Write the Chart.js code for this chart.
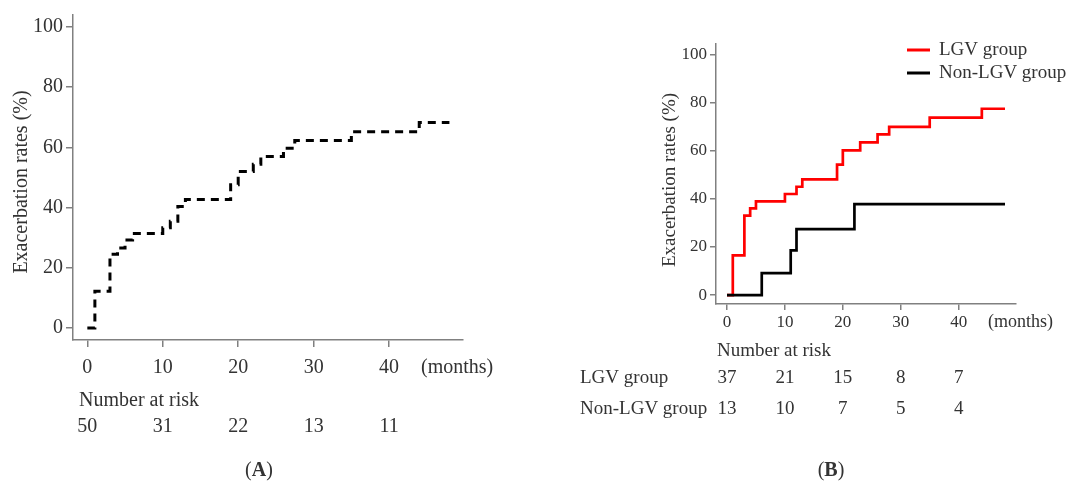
<!DOCTYPE html>
<html lang="en">
<head>
<meta charset="UTF-8">
<title>Exacerbation rates</title>
<style>
body {
    margin: 0;
    background: #fff;
    width: 1072px;
    height: 486px;
    position: relative;
    overflow: hidden;
}
.panel { position: absolute; top: 0; height: 486px; }
#wrapA { left: 0; width: 520px; }
#wrapB { left: 560px; width: 512px; }
</style>
</head>
<body>
<div class="panel" id="wrapA"><canvas id="chartA"></canvas></div>
<div class="panel" id="wrapB"><canvas id="chartB"></canvas></div>

<script src="https://cdn.jsdelivr.net/npm/chart.js"></script>
<script>
// panel A - whole cohort
const monthsAll = [0, 1, 3, 4, 5, 6, 10, 11, 12, 13, 19, 20, 22, 23, 26, 27.5, 35, 44, 48];
const ratesAll  = [0, 12.2, 24.5, 26.6, 29.2, 31.4, 33.3, 35.5, 40.4, 42.7, 47.6, 52.0, 54.4, 57.0, 59.7, 62.3, 65.2, 68.3, 68.3];

// panel B - by group
const monthsLGV = [0, 1, 3, 4, 5, 10, 12, 13, 19, 20, 23, 26, 28, 35, 44, 48];
const ratesLGV  = [0, 16.5, 33.0, 36.0, 38.9, 42.0, 45.0, 48.1, 54.2, 60.1, 63.4, 66.8, 69.9, 73.7, 77.4, 77.4];
const monthsNon = [0, 6, 11, 12, 22, 48];
const ratesNon  = [0, 9.1, 18.6, 27.4, 37.8, 37.8];

const xTicks = [0, 10, 20, 30, 40];
const yTicks = [0, 20, 40, 60, 80, 100];

// number at risk
const riskMonths = [0, 10, 20, 30, 40];
const riskAll = [50, 31, 22, 13, 11];
const riskLGV = [37, 21, 15, 8, 7];
const riskNon = [13, 10, 7, 5, 4];

const FONT = '"Liberation Serif", "DejaVu Serif", serif';
const TEXT = '#333';
const AXIS = '#808080';

const toPoints = (xs, ys) => xs.map((x, i) => ({ x: x, y: ys[i] }));

function axes(o) {
    return {
        x: {
            type: 'linear', min: o.xmin, max: o.xmax,
            afterBuildTicks: s => { s.ticks = xTicks.map(v => ({ value: v })); },
            afterFit: s => { s.height = o.xh; },
            grid: { drawOnChartArea: false, drawTicks: true, tickLength: o.tick, color: AXIS, lineWidth: 1.5 },
            border: { display: true, color: AXIS, width: 1.5 },
            ticks: { color: TEXT, font: { family: FONT, size: o.tickSize }, padding: o.xpad, maxRotation: 0 }
        },
        y: {
            type: 'linear', min: o.ymin, max: o.ymax,
            afterBuildTicks: s => { s.ticks = yTicks.map(v => ({ value: v })); },
            afterFit: s => { s.width = o.yw; },
            grid: { drawOnChartArea: false, drawTicks: true, tickLength: o.tick, color: AXIS, lineWidth: 1.5 },
            border: { display: true, color: AXIS, width: 1.5 },
            ticks: { color: TEXT, font: { family: FONT, size: o.tickSize }, padding: 3 }
        }
    };
}

function panelLabel(ctx, letter, cx, cy) {
    ctx.textBaseline = 'middle';
    ctx.textAlign = 'left';
    const reg = '20px ' + FONT, bold = 'bold 20px ' + FONT;
    ctx.font = reg; const wp = ctx.measureText('(').width;
    ctx.font = bold; const wl = ctx.measureText(letter).width;
    let x = cx - (wp * 2 + wl) / 2;
    ctx.font = reg; ctx.fillText('(', x, cy);
    ctx.font = bold; ctx.fillText(letter, x + wp, cy);
    ctx.font = reg; ctx.fillText(')', x + wp + wl, cy);
}

const annotA = {
    id: 'annotA',
    afterDraw(chart) {
        const { ctx } = chart;
        const x = chart.scales.x;
        ctx.save();
        ctx.fillStyle = TEXT;
        ctx.font = '20px ' + FONT;
        ctx.textBaseline = 'middle';

        ctx.save();
        ctx.translate(22, 182);
        ctx.rotate(-Math.PI / 2);
        ctx.textAlign = 'center';
        ctx.fillText('Exacerbation rates (%)', 0, 0);
        ctx.restore();

        ctx.textAlign = 'left';
        ctx.fillText('(months)', 421, 368);
        ctx.fillText('Number at risk', 79, 401);
        ctx.textAlign = 'center';
        riskMonths.forEach((m, i) => ctx.fillText(riskAll[i], x.getPixelForValue(m), 427));

        panelLabel(ctx, 'A', 259, 471);
        ctx.restore();
    }
};

const annotB = {
    id: 'annotB',
    afterDraw(chart) {
        const { ctx } = chart;
        const x = chart.scales.x;
        ctx.save();
        ctx.fillStyle = TEXT;
        ctx.textBaseline = 'middle';

        ctx.font = '19px ' + FONT;
        ctx.save();
        ctx.translate(110, 180);
        ctx.rotate(-Math.PI / 2);
        ctx.textAlign = 'center';
        ctx.fillText('Exacerbation rates (%)', 0, 0);
        ctx.restore();

        // legend
        ctx.lineWidth = 3;
        ctx.strokeStyle = '#ff0000';
        ctx.beginPath(); ctx.moveTo(347, 50); ctx.lineTo(370, 50); ctx.stroke();
        ctx.strokeStyle = '#000';
        ctx.beginPath(); ctx.moveTo(347, 73); ctx.lineTo(370, 73); ctx.stroke();
        ctx.textAlign = 'left';
        ctx.fillText('LGV group', 379, 50);
        ctx.fillText('Non-LGV group', 379, 73);

        ctx.font = '18px ' + FONT;
        ctx.fillText('(months)', 428, 322);

        ctx.font = '19px ' + FONT;
        ctx.fillText('Number at risk', 157, 351);
        ctx.fillText('LGV group', 20, 378);
        ctx.fillText('Non-LGV group', 20, 409);
        ctx.textAlign = 'center';
        riskMonths.forEach((m, i) => {
            ctx.fillText(riskLGV[i], x.getPixelForValue(m), 378);
            ctx.fillText(riskNon[i], x.getPixelForValue(m), 409);
        });

        panelLabel(ctx, 'B', 271, 471);
        ctx.restore();
    }
};

new Chart(document.getElementById('chartA'), {
    type: 'line',
    data: {
        datasets: [{
            data: toPoints(monthsAll, ratesAll),
            stepped: 'before',
            borderColor: '#000',
            borderWidth: 3,
            borderDash: [8, 6],
            borderCapStyle: 'butt',
            pointRadius: 0,
            fill: false
        }]
    },
    options: {
        responsive: true,
        maintainAspectRatio: false,
        animation: false,
        layout: { padding: { left: 0, top: 13, right: 57, bottom: 106 } },
        plugins: { legend: { display: false }, tooltip: { enabled: false } },
        scales: axes({ xmin: -1.9, xmax: 49.8, ymin: -4, ymax: 104, xh: 40, yw: 73, tick: 7, tickSize: 20, xpad: 9 })
    },
    plugins: [annotA]
});

new Chart(document.getElementById('chartB'), {
    type: 'line',
    data: {
        datasets: [{
            label: 'Non-LGV group',
            data: toPoints(monthsNon, ratesNon),
            stepped: 'before',
            borderColor: '#000',
            borderWidth: 2.7,
            pointRadius: 0,
            fill: false
        }, {
            label: 'LGV group',
            data: toPoints(monthsLGV, ratesLGV),
            stepped: 'before',
            borderColor: '#ff0000',
            borderWidth: 2.7,
            pointRadius: 0,
            fill: false
        }]
    },
    options: {
        responsive: true,
        maintainAspectRatio: false,
        animation: false,
        layout: { padding: { left: 80, top: 44, right: 56, bottom: 152 } },
        plugins: { legend: { display: false }, tooltip: { enabled: false } },
        scales: axes({ xmin: -1.9, xmax: 49.9, ymin: -3.7, ymax: 104.3, xh: 30, yw: 76, tick: 6, tickSize: 17, xpad: 2 })
    },
    plugins: [annotB]
});
</script>
</body>
</html>
